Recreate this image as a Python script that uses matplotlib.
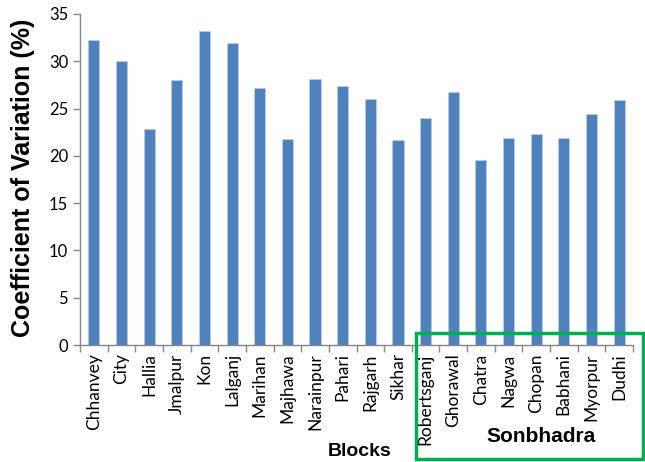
import matplotlib.pyplot as plt
import matplotlib.patches as patches
import numpy as np

blocks = ['Chhanvey', 'City', 'Hallia', 'Jmalpur', 'Kon', 'Lalganj', 'Marihan',
          'Majhawa', 'Narainpur', 'Pahari', 'Rajgarh', 'Sikhar', 'Robertsganj',
          'Ghorawal', 'Chatra', 'Nagwa', 'Chopan', 'Babhani', 'Myorpur', 'Dudhi']
cv = [32.2, 30.0, 22.8, 28.0, 33.2, 31.9, 27.2, 21.8, 28.1, 27.4, 26.0, 21.7,
      24.0, 26.7, 19.6, 21.85, 22.3, 21.9, 24.4, 25.9]

fig = plt.figure(figsize=(6.45, 4.62), dpi=100)
ax = fig.add_axes([80 / 645, 1 - 345 / 462, 553 / 645, 331 / 462])

x = np.arange(len(blocks))
ax.bar(x, cv, width=0.4, color='#4F81BD', edgecolor='#B9CDE5', linewidth=0.6)

# axes formatting
ax.set_xlim(-0.5, len(blocks) - 0.5)
ax.set_ylim(0, 35)
ax.set_yticks(range(0, 36, 5))
ax.set_xticks(x)
ax.set_xticklabels(blocks, rotation=90, fontsize=12.5, family='Lato')
ax.set_xticks(np.arange(-0.5, len(blocks), 1), minor=True)
ax.tick_params(axis='x', which='major', length=0, pad=6)
ax.tick_params(axis='x', which='minor', length=5, color='#868686', width=1)
ax.tick_params(axis='y', length=5, color='#868686', width=1, labelsize=12)
for lab in ax.get_yticklabels():
    lab.set_family('Lato')

for side in ['top', 'right']:
    ax.spines[side].set_visible(False)
for side in ['left', 'bottom']:
    ax.spines[side].set_color('#868686')
    ax.spines[side].set_linewidth(1)

ax.set_ylabel('Coefficient of Variation (%)', fontsize=18, fontweight='bold',
              family='Liberation Sans')
ax.yaxis.set_label_coords(-0.082, 0.505)
fig.text(360 / 645, 1 - 451 / 462, 'Blocks', fontsize=14, fontweight='bold',
         family='Liberation Sans', ha='center', va='center')
fig.text(541 / 645, 1 - 436 / 462, 'Sonbhadra', fontsize=15, fontweight='bold',
         family='Liberation Sans', ha='center', va='center')

# green box around the Sonbhadra blocks
rect = patches.Rectangle((416 / 645, 1 - 459 / 462), 227 / 645, 126 / 462,
                         transform=fig.transFigure, fill=False,
                         edgecolor='#00B050', linewidth=2.5, clip_on=False)
fig.patches.append(rect)

fig.savefig('out.png', dpi=100)
